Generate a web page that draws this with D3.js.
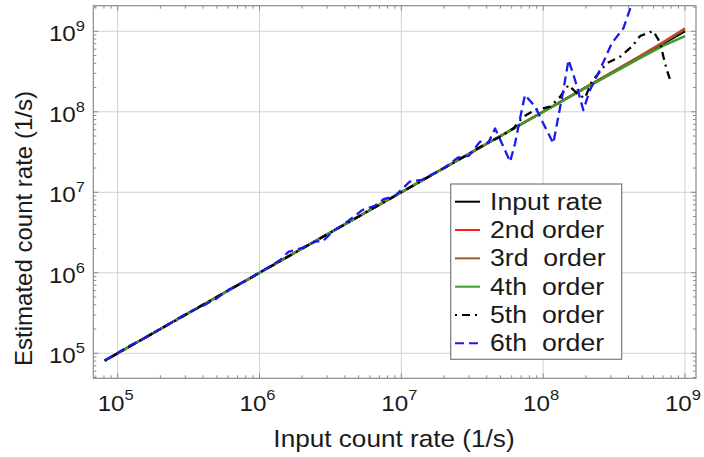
<!DOCTYPE html>
<html><head><meta charset="utf-8">
<script src="https://cdn.jsdelivr.net/npm/d3@7"></script>
<style>body{margin:0;background:#fff}svg{display:block}text{font-family:"Liberation Sans",Arial,sans-serif;fill:#1a1a1a;white-space:pre}</style>
</head><body>
<svg id="c" width="704" height="457"></svg>
<script>
// ---- data ----
const xTicks = [1e5, 1e6, 1e7, 1e8, 1e9];
const yTicks = [1e5, 1e6, 1e7, 1e8, 1e9];
const tickExp = ["5", "6", "7", "8", "9"];
const seriesNames = ["Input rate", "2nd order", "3rd  order", "4th  order", "5th  order", "6th  order"];

const xBase = [8.1e4, 1e5, 2e5, 5e5, 1e6, 2e6, 5e6, 1e7, 2e7, 5e7, 1e8, 2e8, 3e8, 5e8, 7e8, 1e9];
const yInput = [8.1e4, 1e5, 2e5, 5e5, 1e6, 2e6, 5e6, 1e7, 2e7, 5e7, 1e8, 2e8, 3e8, 5e8, 7e8, 1e9];
const y2nd = [8.1e4, 1e5, 2e5, 5e5, 1e6, 2e6, 5e6, 1e7, 2e7, 5e7, 1e8, 2.01e8, 3.04e8, 5.12e8, 7.3e8, 1.08e9];
const y3rd = [8.1e4, 1e5, 2e5, 5e5, 1e6, 2e6, 5e6, 1e7, 2e7, 5e7, 1e8, 2.01e8, 3.03e8, 5.08e8, 7.2e8, 1.06e9];
const y4th = [8.1e4, 1e5, 2e5, 5e5, 1e6, 2e6, 5e6, 1e7, 2e7, 5e7, 1e8, 1.98e8, 2.94e8, 4.8e8, 6.6e8, 8.7e8];

const x5th = [8.1e4, 1e5, 2e5, 5e5, 1e6, 2e6, 5e6, 1e7, 2e7, 3e7, 4e7, 5e7, 6.17e7, 7.24e7, 8.77e7, 1.12e8, 1.32e8, 1.51e8, 1.73e8, 1.97e8, 2.2e8, 2.81e8, 3.49e8, 4.22e8, 4.83e8, 5.97e8, 6.7e8, 7.05e8, 7.45e8, 7.87e8];
const y5th = [8.1e4, 1e5, 2e5, 5e5, 1e6, 2e6, 5e6, 1e7, 2e7, 3e7, 4.1e7, 4.9e7, 6.2e7, 8.7e7, 1.05e8, 1.16e8, 1.54e8, 2.15e8, 1.70e8, 1.47e8, 2.37e8, 4.0e8, 4.83e8, 6.44e8, 8.75e8, 1.01e9, 7.2e8, 4.83e8, 3.3e8, 2.48e8];

const x6th = [8.1e4, 1.2e5, 1.5e5, 2e5, 3e5, 4e5, 5e5, 6e5, 8e5, 1e6, 1.4e6, 1.6e6, 2e6, 2.5e6, 2.8e6, 3.3e6, 4e6, 5.3e6, 6.5e6, 7.5e6, 9e6, 1.15e7, 1.4e7, 2e7, 2.5e7, 3e7, 3.59e7, 4.1e7, 4.58e7, 5.24e7, 5.85e7, 6.34e7, 7.07e7, 7.45e7, 8.77e7, 1.03e8, 1.18e8, 1.28e8, 1.39e8, 1.51e8, 1.68e8, 1.92e8, 2.14e8, 2.45e8, 3.05e8, 3.68e8, 4.24e8];
const y6th = [8.1e4, 1.23e5, 1.49e5, 2e5, 3.06e5, 3.9e5, 4.8e5, 6.1e5, 8e5, 1e6, 1.44e6, 1.82e6, 2.04e6, 2.45e6, 2.46e6, 3.3e6, 4.1e6, 6.0e6, 6.8e6, 8.2e6, 9e6, 1.36e7, 1.43e7, 2e7, 2.7e7, 2.85e7, 4.26e7, 4.1e7, 6.2e7, 3.7e7, 2.4e7, 4.06e7, 1.05e8, 1.62e8, 1.16e8, 6.5e7, 4.06e7, 8.7e7, 1.87e8, 4.4e8, 2.48e8, 1.05e8, 1.87e8, 3.0e8, 7.1e8, 1.09e9, 2.24e9];

// ---- layout ----
const L = 93.3, R = 696, T = 5.7, B = 378.3;
const x = d3.scaleLog().domain([10 ** 4.828, 10 ** 9.078]).range([L, R]);
const y = d3.scaleLog().domain([10 ** 4.689, 10 ** 9.318]).range([B, T]);
const svg = d3.select("#c");
const gridC = "#d2d2d2", frameC = "#8c8c8c";

// grid
xTicks.forEach(v => svg.append("line").attr("x1", x(v)).attr("x2", x(v)).attr("y1", T).attr("y2", B).attr("stroke", gridC).attr("stroke-width", 1));
yTicks.forEach(v => svg.append("line").attr("y1", y(v)).attr("y2", y(v)).attr("x1", L).attr("x2", R).attr("stroke", gridC).attr("stroke-width", 1));

// ticks (inside, all four sides)
function ticksFor(sc) {
  const [a, b] = sc.domain(); const out = [];
  for (let e = Math.floor(Math.log10(a)); e <= Math.ceil(Math.log10(b)); e++)
    for (let m = 1; m <= 9; m++) { const v = m * 10 ** e; if (v >= a && v <= b) out.push({v, major: m === 1}); }
  return out;
}
const tk = svg.append("g").attr("stroke", frameC).attr("stroke-width", 1);
ticksFor(x).forEach(t => {
  const len = t.major ? 5 : 3, px = x(t.v);
  tk.append("line").attr("x1", px).attr("x2", px).attr("y1", B).attr("y2", B - len);
  tk.append("line").attr("x1", px).attr("x2", px).attr("y1", T).attr("y2", T + len);
});
ticksFor(y).forEach(t => {
  const len = t.major ? 5 : 3, py = y(t.v);
  tk.append("line").attr("y1", py).attr("y2", py).attr("x1", L).attr("x2", L + len);
  tk.append("line").attr("y1", py).attr("y2", py).attr("x1", R).attr("x2", R - len);
});

// clip
svg.append("clipPath").attr("id", "pc").append("rect").attr("x", L).attr("y", T).attr("width", R - L).attr("height", B - T);

const line = d3.line().x(d => x(d[0])).y(d => y(d[1]));
const series = [
  {xs: xBase, ys: yInput, color: "#000000", dash: null, w: 2.4},
  {xs: xBase, ys: y2nd, color: "#ff1a1a", dash: null, w: 2.4},
  {xs: xBase, ys: y3rd, color: "#9a5a2a", dash: null, w: 2.4},
  {xs: xBase, ys: y4th, color: "#3f9a2e", dash: null, w: 2.4},
  {xs: x5th, ys: y5th, color: "#000000", dash: "2,5,8,5", w: 2.3},
  {xs: x6th, ys: y6th, color: "#1a1aee", dash: "9,5", w: 2.3}
];
const pg = svg.append("g").attr("clip-path", "url(#pc)");
series.forEach(s => {
  pg.append("path").datum(d3.zip(s.xs, s.ys)).attr("d", line).attr("fill", "none")
    .attr("stroke", s.color).attr("stroke-width", s.w).attr("stroke-dasharray", s.dash)
    .attr("stroke-linejoin", "round");
});

// frame
svg.append("rect").attr("x", L).attr("y", T).attr("width", R - L).attr("height", B - T)
  .attr("fill", "none").attr("stroke", frameC).attr("stroke-width", 1.2);

// tick labels
const SX = 1.1;
xTicks.forEach((v, i) => {
  const g = svg.append("g").attr("transform", `translate(${x(v) - 2},411) scale(${SX},1)`);
  const t = g.append("text").attr("text-anchor", "middle").attr("font-size", 22);
  t.append("tspan").text("10");
  t.append("tspan").attr("font-size", 15).attr("dy", -11).text(tickExp[i]);
});
yTicks.forEach((v, i) => {
  const g = svg.append("g").attr("transform", `translate(85,${y(v) + 10}) scale(${SX},1)`);
  const t = g.append("text").attr("text-anchor", "end").attr("font-size", 22);
  t.append("tspan").text("10");
  t.append("tspan").attr("font-size", 15).attr("dy", -10).text(tickExp[i]);
});

// axis titles
svg.append("g").attr("transform", `translate(394,447) scale(1.09,1)`)
  .append("text").attr("text-anchor", "middle").attr("font-size", 24).text("Input count rate (1/s)");
svg.append("text").attr("transform", "translate(32,228.5) rotate(-90)").attr("text-anchor", "middle")
  .attr("font-size", 24).text("Estimated count rate (1/s)");

// legend
const lg = svg.append("g");
lg.append("rect").attr("x", 450.7).attr("y", 184).attr("width", 171).attr("height", 175.3)
  .attr("fill", "#fff").attr("stroke", "#7a7a7a").attr("stroke-width", 1.2);
series.forEach((s, i) => {
  const cy = 201.7 + i * 28.33;
  lg.append("line").attr("x1", 455).attr("x2", 480).attr("y1", cy).attr("y2", cy)
    .attr("stroke", s.color).attr("stroke-width", 2).attr("stroke-dasharray", s.dash);
  lg.append("g").attr("transform", `translate(490,${cy + 8}) scale(1.16,1)`)
    .append("text").attr("font-size", 23).attr("xml:space", "preserve").text(seriesNames[i]);
});
</script>
</body></html>
